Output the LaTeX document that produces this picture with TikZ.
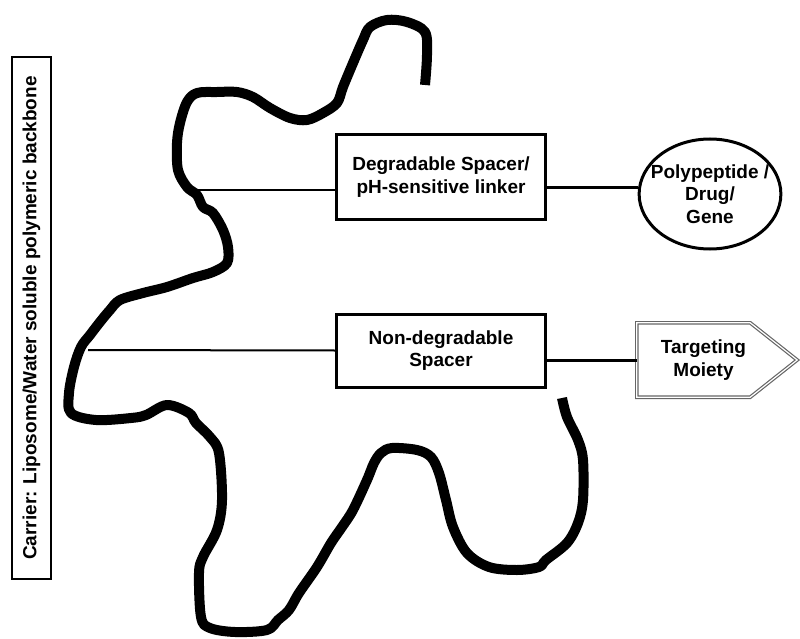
\documentclass[tikz,border=0pt]{standalone}
\usepackage{fontspec}
\setmainfont{Liberation Sans}
\usetikzlibrary{calc,shapes.geometric}
\begin{document}
\begin{tikzpicture}[x=1pt,y=-1pt,
  every node/.style={font=\fontsize{19}{22.5}\selectfont\bfseries, inner sep=0},
  spacerbox/.style={draw, line width=3, minimum width=209, align=center},
  thinconn/.style={line width=2},
  thickconn/.style={line width=3},
  backbone/.style={line width=10, line join=round}]
\useasboundingbox (0,0) rectangle (800,639);

% polymer backbone
\draw[backbone] plot[smooth, tension=0.55] coordinates {
(425,85) (427,55) (425,32) (407,22) (387,20) (370,27) (363,40) (353,63) (343,87) (337,103) (323,113) (307,120) (290,118) (270,108) (253,97) (237,92) (217,92) (197,93) (187,102) (180,123) (177,143) (178,170) (187,187) (197,195) (203,207) (213,213) (223,230) (228,247) (227,263) (213,272) (193,278) (167,287) (143,293) (120,300) (110,310) (100,322) (90,335) (81,347) (74,367) (69,393) (71,413) (96,420) (131,418) (146,415) (167,405) (189,413) (196,423) (210,437) (219,453) (222,500) (217,530) (203,557) (199,573) (201,617) (210,628) (235,632) (267,630) (278,620) (289,610) (299,593) (317,567) (331,543) (342,527) (353,510) (367,480) (374,463) (381,453) (392,448) (417,450) (431,457) (439,473) (446,500) (453,527) (467,553) (489,567) (517,570) (539,567) (546,560) (567,543) (578,523) (583,500) (583,460) (578,440) (567,417) (562,398)};

% carrier label
\node[draw, line width=1.3, rotate=90, minimum width=522, minimum height=39] (lbl) at (31.5,318)
  {Carrier: Liposome/Water soluble polymeric backbone};

% spacers
\node[spacerbox, minimum height=84] (deg) at (441,177) {Degradable Spacer/\\pH-sensitive linker};
\node[spacerbox, minimum height=73] (nd) at (441,350.5) {Non-degradable\\Spacer};

% payload
\node[draw, ellipse, line width=3, inner xsep=-9, minimum height=110, align=center] (pp) at (710,194)
  {Polypeptide /\\Drug/\\Gene};

% targeting moiety
\node[minimum width=133, minimum height=74, align=center] (tm) at (703.5,360) {Targeting\\Moiety};
\draw[draw=black!60, line width=1.2, double=white, double distance=1.2, line join=miter]
  (tm.north west) -- ([xshift=-20]tm.north east) -- ([xshift=27]tm.east)
  -- ([xshift=-20]tm.south east) -- (tm.south west) -- cycle;

% connectors
\coordinate (c1) at (198,190);
\coordinate (c2) at (88,350);
\draw[thinconn] (c1) -- (c1 -| deg.west);
\draw[thickconn] ([yshift=-11]deg.east) -- ([yshift=-11]deg.east -| pp.west);
\draw[thinconn] (c2) -- (nd.west);
\draw[thickconn] (nd.east |- tm.west) -- (tm.west);
\end{tikzpicture}
\end{document}
